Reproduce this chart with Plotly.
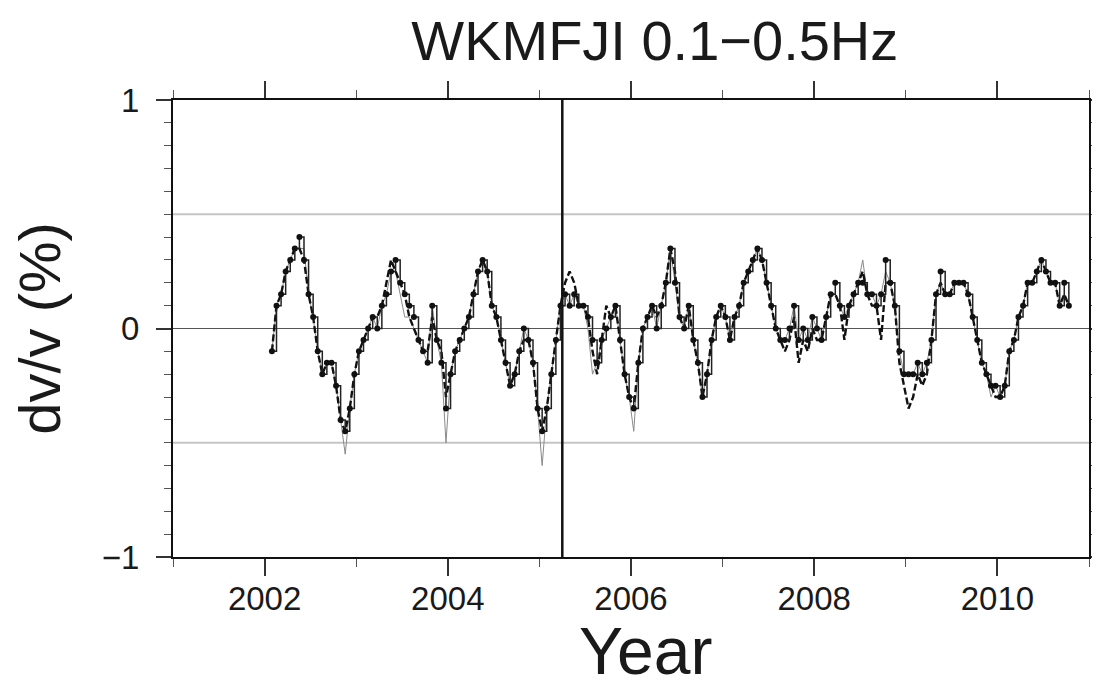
import plotly.graph_objects as go

# ---------------- data ----------------
years = [
    2002.08, 2002.13, 2002.18, 2002.23, 2002.28, 2002.33, 2002.38, 2002.43, 2002.48, 2002.53,
    2002.58, 2002.63, 2002.68, 2002.73, 2002.78, 2002.83, 2002.88, 2002.93, 2002.98, 2003.03,
    2003.08, 2003.13, 2003.18, 2003.23, 2003.28, 2003.33, 2003.38, 2003.43, 2003.48, 2003.53,
    2003.58, 2003.63, 2003.68, 2003.73, 2003.78, 2003.83, 2003.88, 2003.93, 2003.98, 2004.03,
    2004.08, 2004.13, 2004.18, 2004.23, 2004.28, 2004.33, 2004.38, 2004.43, 2004.48, 2004.53,
    2004.58, 2004.63, 2004.68, 2004.73, 2004.78, 2004.83, 2004.88, 2004.93, 2004.98, 2005.03,
    2005.08, 2005.13, 2005.18, 2005.23, 2005.28, 2005.33, 2005.38, 2005.43, 2005.48, 2005.53,
    2005.58, 2005.63, 2005.68, 2005.73, 2005.78, 2005.83, 2005.88, 2005.93, 2005.98, 2006.03,
    2006.08, 2006.13, 2006.18, 2006.23, 2006.28, 2006.33, 2006.38, 2006.43, 2006.48, 2006.53,
    2006.58, 2006.63, 2006.68, 2006.73, 2006.78, 2006.83, 2006.88, 2006.93, 2006.98, 2007.03,
    2007.08, 2007.13, 2007.18, 2007.23, 2007.28, 2007.33, 2007.38, 2007.43, 2007.48, 2007.53,
    2007.58, 2007.63, 2007.68, 2007.73, 2007.78, 2007.83, 2007.88, 2007.93, 2007.98, 2008.03,
    2008.08, 2008.13, 2008.18, 2008.23, 2008.28, 2008.33, 2008.38, 2008.43, 2008.48, 2008.53,
    2008.58, 2008.63, 2008.68, 2008.73, 2008.78, 2008.83, 2008.88, 2008.93, 2008.98, 2009.03,
    2009.08, 2009.13, 2009.18, 2009.23, 2009.28, 2009.33, 2009.38, 2009.43, 2009.48, 2009.53,
    2009.58, 2009.63, 2009.68, 2009.73, 2009.78, 2009.83, 2009.88, 2009.93, 2009.98, 2010.03,
    2010.08, 2010.13, 2010.18, 2010.23, 2010.28, 2010.33, 2010.38, 2010.43, 2010.48, 2010.53,
    2010.58, 2010.63, 2010.68, 2010.73, 2010.78,
]

# quantised dv/v (dots + step line)
dvv_step = [
    -0.10, 0.10, 0.15, 0.25, 0.30, 0.35, 0.40, 0.30, 0.15, 0.05,
    -0.10, -0.20, -0.15, -0.15, -0.25, -0.40, -0.45, -0.35, -0.20, -0.10,
    -0.05, 0.00, 0.05, 0.00, 0.10, 0.15, 0.25, 0.30, 0.20, 0.15,
    0.10, 0.05, -0.05, -0.10, -0.15, 0.10, -0.05, -0.15, -0.35, -0.20,
    -0.10, -0.05, 0.00, 0.05, 0.15, 0.25, 0.30, 0.25, 0.10, 0.05,
    -0.05, -0.15, -0.25, -0.20, -0.10, 0.00, -0.05, -0.15, -0.35, -0.45,
    -0.35, -0.20, -0.05, 0.10, 0.15, 0.10, 0.15, 0.10, 0.10, 0.05,
    -0.05, -0.15, -0.05, 0.00, 0.05, 0.10, -0.05, -0.20, -0.30, -0.35,
    -0.15, 0.00, 0.05, 0.10, 0.00, 0.10, 0.20, 0.35, 0.20, 0.05,
    0.00, 0.10, -0.05, -0.15, -0.30, -0.20, -0.05, 0.05, 0.10, 0.05,
    -0.05, 0.05, 0.10, 0.20, 0.25, 0.30, 0.35, 0.30, 0.20, 0.10,
    0.00, -0.05, -0.05, 0.00, 0.10, -0.05, 0.00, -0.05, 0.05, 0.00,
    -0.05, 0.05, 0.15, 0.20, 0.10, 0.05, 0.10, 0.15, 0.20, 0.20,
    0.15, 0.15, 0.10, 0.15, 0.30, 0.20, 0.10, -0.10, -0.20, -0.20,
    -0.20, -0.15, -0.20, -0.15, -0.05, 0.15, 0.25, 0.15, 0.15, 0.20,
    0.20, 0.20, 0.15, 0.05, -0.05, -0.15, -0.20, -0.25, -0.25, -0.30,
    -0.25, -0.10, -0.05, 0.05, 0.10, 0.20, 0.20, 0.25, 0.30, 0.25,
    0.20, 0.20, 0.10, 0.20, 0.10,
]

# second estimate (dashed line)
dvv_dash = [
    -0.10, 0.10, 0.15, 0.25, 0.30, 0.35, 0.35, 0.30, 0.15, 0.05,
    -0.10, -0.20, -0.15, -0.15, -0.25, -0.40, -0.45, -0.35, -0.20, -0.10,
    -0.05, 0.00, 0.05, 0.05, 0.10, 0.20, 0.30, 0.25, 0.20, 0.15,
    0.05, 0.00, -0.05, -0.10, -0.10, 0.05, -0.05, -0.10, -0.30, -0.20,
    -0.10, -0.05, 0.00, 0.05, 0.15, 0.25, 0.30, 0.25, 0.10, 0.05,
    -0.05, -0.15, -0.25, -0.20, -0.10, -0.05, -0.05, -0.15, -0.35, -0.45,
    -0.35, -0.20, -0.05, 0.10, 0.20, 0.25, 0.20, 0.10, 0.10, 0.05,
    -0.10, -0.20, -0.05, 0.10, 0.05, 0.10, -0.05, -0.20, -0.30, -0.35,
    -0.15, 0.00, 0.05, 0.10, 0.05, 0.10, 0.20, 0.35, 0.25, 0.05,
    0.00, 0.10, -0.05, -0.15, -0.30, -0.20, -0.05, 0.05, 0.10, 0.05,
    -0.05, 0.05, 0.10, 0.20, 0.25, 0.30, 0.35, 0.30, 0.20, 0.10,
    0.00, -0.05, -0.10, -0.05, 0.05, -0.15, -0.05, -0.10, 0.00, -0.05,
    -0.05, 0.05, 0.15, 0.15, 0.10, -0.05, 0.10, 0.15, 0.20, 0.25,
    0.15, 0.10, 0.10, -0.05, 0.20, 0.20, 0.10, -0.15, -0.25, -0.35,
    -0.30, -0.20, -0.25, -0.20, -0.05, 0.15, 0.20, 0.15, 0.15, 0.20,
    0.20, 0.20, 0.15, 0.05, -0.05, -0.15, -0.20, -0.25, -0.30, -0.30,
    -0.25, -0.10, -0.05, 0.05, 0.10, 0.20, 0.20, 0.25, 0.30, 0.25,
    0.20, 0.20, 0.10, 0.15, 0.10,
]

# raw thin line (with the narrow excursions)
dvv_raw = [
    -0.10, 0.10, 0.15, 0.25, 0.30, 0.35, 0.35, 0.35, 0.15, 0.05,
    -0.10, -0.20, -0.15, -0.15, -0.25, -0.40, -0.55, -0.35, -0.20, -0.10,
    -0.05, 0.00, 0.05, 0.00, 0.10, 0.15, 0.25, 0.25, 0.15, 0.05,
    0.05, 0.00, -0.05, -0.10, -0.15, 0.10, -0.05, -0.15, -0.50, -0.20,
    -0.10, -0.05, 0.00, 0.05, 0.15, 0.25, 0.30, 0.25, 0.10, 0.05,
    -0.05, -0.15, -0.25, -0.20, -0.10, 0.00, -0.05, -0.15, -0.35, -0.60,
    -0.35, -0.20, -0.05, 0.10, 0.15, 0.10, 0.15, 0.10, 0.10, 0.00,
    -0.20, -0.15, -0.05, 0.00, 0.05, 0.10, -0.05, -0.20, -0.30, -0.45,
    -0.15, 0.00, 0.05, 0.10, 0.00, 0.10, 0.20, 0.35, 0.20, 0.05,
    0.00, 0.10, -0.05, -0.15, -0.30, -0.20, -0.05, 0.05, 0.10, 0.05,
    -0.05, 0.05, 0.10, 0.20, 0.25, 0.30, 0.35, 0.30, 0.20, 0.10,
    0.00, -0.05, -0.05, 0.00, 0.10, -0.05, 0.00, -0.05, 0.05, 0.00,
    -0.05, 0.05, 0.15, 0.15, 0.10, 0.05, 0.10, 0.15, 0.20, 0.30,
    0.15, 0.15, 0.10, 0.15, 0.25, 0.20, 0.10, -0.10, -0.20, -0.20,
    -0.20, -0.15, -0.20, -0.15, -0.05, 0.15, 0.20, 0.15, 0.15, 0.20,
    0.20, 0.20, 0.15, 0.05, -0.05, -0.15, -0.20, -0.30, -0.25, -0.30,
    -0.25, -0.10, -0.05, 0.05, 0.10, 0.20, 0.20, 0.25, 0.30, 0.25,
    0.20, 0.20, 0.10, 0.15, 0.10,
]

event_year = 2005.25
x_range = [2001, 2011]
y_range = [-1, 1]
x_tickvals = [2002, 2004, 2006, 2008, 2010]
x_ticktext = ["2002", "2004", "2006", "2008", "2010"]
y_tickvals = [-1, 0, 1]
y_ticktext = ["\u22121", "0", "1"]
light_grid_levels = [-0.5, 0.5]
zero_level = [0]

FONT = "Liberation Sans, Arial, Helvetica, sans-serif"

fig = go.Figure()

fig.add_trace(go.Scatter(
    x=years, y=dvv_raw, mode="lines",
    line=dict(color="#8a8a8a", width=1),
    showlegend=False, hoverinfo="skip"))

fig.add_trace(go.Scatter(
    x=years, y=dvv_dash, mode="lines",
    line=dict(color="#111111", width=2.4, dash="7px,3px"),
    showlegend=False))

fig.add_trace(go.Scatter(
    x=years, y=dvv_step, mode="lines+markers",
    line=dict(color="#222222", width=1.5, shape="hv"),
    marker=dict(color="#111111", size=6, symbol="circle"),
    showlegend=False))

shapes = []
for lv in light_grid_levels:
    shapes.append(dict(type="line", xref="paper", x0=0, x1=1, yref="y", y0=lv, y1=lv,
                       line=dict(color="#c4c4c4", width=2), layer="below"))
for lv in zero_level:
    shapes.append(dict(type="line", xref="paper", x0=0, x1=1, yref="y", y0=lv, y1=lv,
                       line=dict(color="#555555", width=1), layer="below"))
shapes.append(dict(type="line", xref="x", x0=event_year, x1=event_year, yref="paper", y0=0, y1=1,
                   line=dict(color="#111111", width=2.5)))

fig.update_layout(
    width=1100, height=691,
    margin=dict(l=165, r=19, t=92, b=142, autoexpand=False),
    paper_bgcolor="white", plot_bgcolor="white",
    font=dict(family=FONT, color="#1a1a1a"),
    shapes=shapes,
    title=dict(text="WKMFJI 0.1\u22120.5Hz", x=0.588, xanchor="center",
               y=0.953, yanchor="middle", yref="container",
               font=dict(size=56, family=FONT, color="#1a1a1a")),
    annotations=[
        dict(text="dv/v (%)", textangle=-90, xref="paper", yref="paper",
             x=-0.146, y=0.5, xanchor="center", yanchor="middle", showarrow=False,
             font=dict(size=58, family=FONT, color="#1a1a1a")),
        dict(text="Year", xref="paper", yref="paper",
             x=0.516, y=-0.206, xanchor="center", yanchor="middle", showarrow=False,
             font=dict(size=66, family=FONT, color="#1a1a1a")),
    ],
)

fig.update_xaxes(
    range=x_range, tickvals=x_tickvals, ticktext=x_ticktext,
    showgrid=False, zeroline=False, automargin=False,
    showline=True, linecolor="#111111", linewidth=2, mirror="ticks",
    ticks="outside", ticklen=17, tickwidth=1.5, tickcolor="#333333",
    ticklabelstandoff=-6,
    tickfont=dict(size=33, family=FONT, color="#1a1a1a"),
    minor=dict(ticks="outside", ticklen=8, tickwidth=1.2, tickcolor="#555555", dtick=1, showgrid=False),
)
fig.update_yaxes(
    range=y_range, tickvals=y_tickvals, ticktext=y_ticktext,
    showgrid=False, zeroline=False, automargin=False,
    showline=True, linecolor="#111111", linewidth=2, mirror="ticks",
    ticks="outside", ticklen=15, tickwidth=1.5, tickcolor="#333333",
    ticklabelstandoff=10,
    tickfont=dict(size=33, family=FONT, color="#1a1a1a"),
    minor=dict(ticks="outside", ticklen=7, tickwidth=1.2, tickcolor="#555555", dtick=0.1, showgrid=False),
)

fig.write_html("out.html")
